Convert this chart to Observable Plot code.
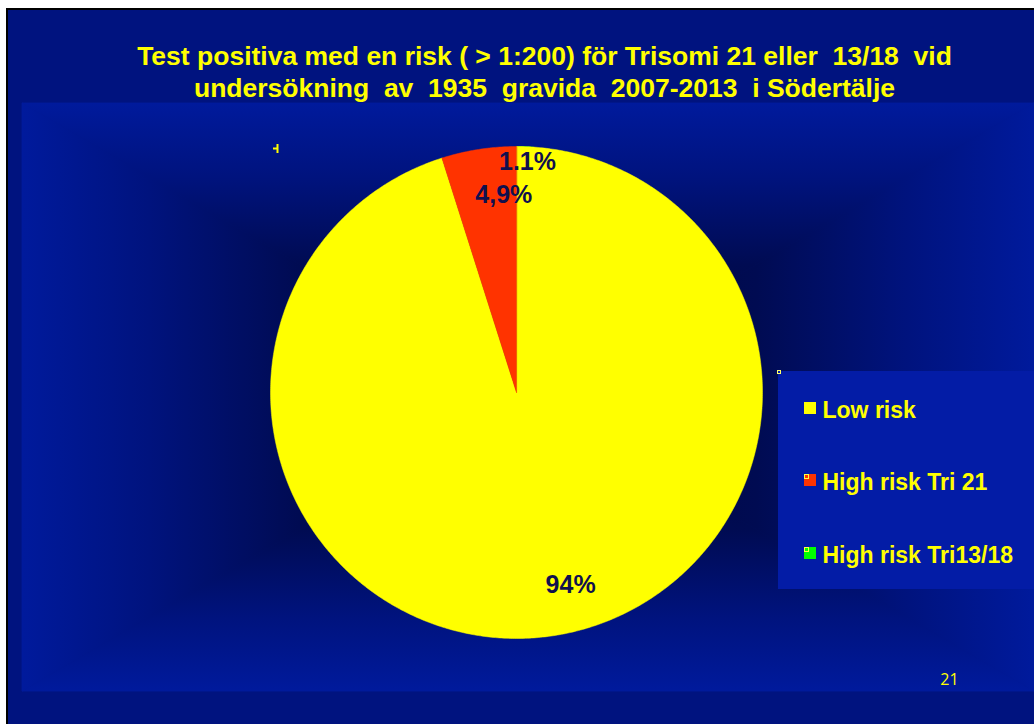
<!DOCTYPE html>
<html><head><meta charset="utf-8">
<script src="https://cdn.jsdelivr.net/npm/d3@7"></script>
<script src="https://cdn.jsdelivr.net/npm/@observablehq/plot@0.6"></script>
<style>
html,body{margin:0;padding:0;background:#fff;overflow:hidden;}
#chart svg{display:block;}
#chart svg text{white-space:pre;}
</style></head><body><div id="chart"></div>
<script>
// ---- data ----
const categories = ["Low risk", "High risk Tri 21", "High risk Tri13/18"];
const percents = [94, 4.9, 1.1];
const pctLabels = ["94%", "4,9%", "1.1%"];
const colors = ["#ffff00", "#ff3300", "#00ff00"];
const titleLines = [
  "Test positiva med en risk ( > 1:200) för Trisomi 21 eller  13/18  vid",
  "undersökning  av  1935  gravida  2007-2013  i Södertälje"
];
const pageNumber = "21";

// ---- layout ----
const W = 1034, H = 724;
const cx = 516, cy = 392, R = 246;
const FONT = "'Liberation Sans', Arial, Helvetica, sans-serif";

// pie order (clockwise from 12 o'clock): Tri13/18, Low risk, Tri 21
const order = [2, 0, 1];
const total = d3.sum(percents);
let acc = 0;
const slices = order.map(i => {
  const s = acc / total; acc += percents[i];
  return {i, start: s, end: acc / total};
});
function pt(turn, r) {
  const a = turn * 2 * Math.PI;
  return {x: cx + r * Math.sin(a), y: cy - r * Math.cos(a)};
}
function poly(start, end, key) {
  const pts = [{x: cx, y: cy, k: key}];
  const n = Math.max(2, Math.ceil((end - start) * 720));
  for (let j = 0; j <= n; j++) pts.push({...pt(start + (end - start) * j / n, R), k: key});
  return pts;
}
// the low-risk slice visually covers the thin Tri13/18 wedge in the reference
const sliceMarks = [];
for (const s of slices) {
  const start = s.i === 0 ? 0 : s.start;
  sliceMarks.push(Plot.line(poly(start, s.end, s.i), {x: "x", y: "y", curve: "linear-closed", fill: colors[s.i], stroke: colors[s.i], strokeWidth: 0.5}));
}
const labelR = [194, 200, 231];
const labelDx = [31, 18, 3];
const labelData = slices.map(s => {
  const p = pt((s.start + s.end) / 2, labelR[s.i]);
  return {x: p.x + labelDx[s.i], y: p.y, text: pctLabels[s.i]};
});

const legendData = categories.map((c, i) => ({c, i, color: colors[i]}));
const legendY = [408, 480, 553];

function background() {
  const g = d3.create("svg:g");
  const defs = g.append("defs");
  g.append("rect").attr("x", 0).attr("y", 0).attr("width", W).attr("height", H).attr("fill", "#fff");
  g.append("rect").attr("x", 6).attr("y", 8).attr("width", W).attr("height", H).attr("fill", "#000");
  g.append("rect").attr("x", 8).attr("y", 10).attr("width", W).attr("height", H).attr("fill", "#00137f");
  const x0 = 22, x1 = W, y0 = 103, y1 = 691, mx = (x0 + x1) / 2, my = (y0 + y1) / 2;
  const tris = [
    {id: "gt", pts: [[x0, y0], [x1, y0], [mx, my]], to: [mx, y0]},
    {id: "gb", pts: [[x0, y1], [x1, y1], [mx, my]], to: [mx, y1]},
    {id: "gl", pts: [[x0, y0], [x0, y1], [mx, my]], to: [x0, my]},
    {id: "gr", pts: [[x1, y0], [x1, y1], [mx, my]], to: [x1, my]}
  ];
  for (const t of tris) {
    const lg = defs.append("linearGradient").attr("id", t.id).attr("gradientUnits", "userSpaceOnUse")
      .attr("x1", mx).attr("y1", my).attr("x2", t.to[0]).attr("y2", t.to[1]);
    lg.append("stop").attr("offset", 0).attr("stop-color", "#00063a");
    lg.append("stop").attr("offset", 0.45).attr("stop-color", "#000b52");
    lg.append("stop").attr("offset", 0.75).attr("stop-color", "#00137e");
    lg.append("stop").attr("offset", 1).attr("stop-color", "#001a9c");
    g.append("polygon").attr("points", t.pts.map(p => p.join(",")).join(" "))
      .attr("fill", `url(#${t.id})`).attr("stroke", `url(#${t.id})`).attr("stroke-width", 0.8);
  }
  // legend box
  g.append("rect").attr("x", 778).attr("y", 371).attr("width", W - 778).attr("height", 218).attr("fill", "#031ca6");
  g.append("rect").attr("x", 777.5).attr("y", 370.5).attr("width", 3).attr("height", 3).attr("fill", "none").attr("stroke", "#ffff66").attr("stroke-width", 1);
  // small stray tick mark
  g.append("rect").attr("x", 276.5).attr("y", 144).attr("width", 2).attr("height", 9).attr("fill", "#ffff00");
  g.append("rect").attr("x", 273).attr("y", 147.5).attr("width", 4).attr("height", 2).attr("fill", "#ffff00");
  return g.node();
}

const chart = Plot.plot({
  width: W, height: H, margin: 0,
  style: {background: "transparent", fontFamily: FONT},
  x: {domain: [0, W], range: [0, W], axis: null},
  y: {domain: [0, H], range: [0, H], axis: null},
  color: {type: "identity"},
  marks: [
    background,
    ...sliceMarks,
    Plot.text(labelData, {x: "x", y: "y", text: "text", fill: "#10104e", fontSize: 25, fontWeight: "bold", fontFamily: FONT}),
    Plot.text(titleLines, {x: () => 544, y: (d, i) => [56, 88][i], text: d => d, fill: "#ffff00", fontSize: 26.5, fontWeight: "bold", fontFamily: FONT}),
    Plot.rect(legendData, {x1: () => 804, x2: () => 816, y1: d => legendY[d.i] - 6, y2: d => legendY[d.i] + 6, fill: "color"}),
    Plot.rect(legendData.filter(d => d.i > 0), {x1: () => 804.5, x2: () => 808.5, y1: d => legendY[d.i] - 5.5, y2: d => legendY[d.i] - 1.5, fill: "none", stroke: "#ffff44", strokeWidth: 1}),
    Plot.text(legendData, {x: () => 822, y: d => legendY[d.i] + 2, text: "c", fill: "#ffff00", fontSize: 23, fontWeight: "bold", textAnchor: "start", fontFamily: FONT}),
    Plot.text([pageNumber], {x: () => 949, y: () => 679, text: d => d, fill: "#ffff00", fontSize: 16, fontFamily: "'Open Sans', sans-serif"})
  ]
});
document.getElementById("chart").append(chart);
</script>
</body></html>
